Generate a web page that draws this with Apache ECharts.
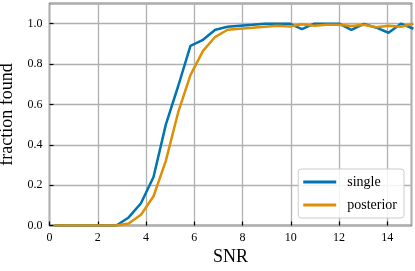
<!DOCTYPE html>
<html>
<head>
<meta charset="utf-8">
<script src="https://cdn.jsdelivr.net/npm/echarts@6/dist/echarts.min.js"></script>
<style>html,body{margin:0;padding:0;background:#fff;}#c{width:415px;height:271px;}</style>
</head>
<body>
<div id="c"></div>
<script>
const snr = [0.2,0.71,1.23,1.74,2.25,2.77,3.28,3.79,4.31,4.82,5.33,5.84,6.36,6.87,7.38,7.89,8.41,8.92,9.43,9.95,10.46,10.97,11.49,12.0,12.51,13.03,13.54,14.05,14.56,15.08];
const single = [0,0,0,0,0,0,0.04,0.11,0.24,0.5,0.69,0.89,0.92,0.97,0.985,0.99,0.995,1.0,1.0,1.0,0.973,1.0,1.0,1.0,0.969,0.999,0.98,0.955,1.0,0.975];
const posterior = [0,0,0,0,0,0,0.01,0.053,0.145,0.32,0.56,0.745,0.865,0.935,0.97,0.975,0.98,0.985,0.99,0.986,0.997,0.99,0.995,0.995,0.988,0.995,0.982,0.99,0.985,1.0];
const xTicks = [0,2,4,6,8,10,12,14];
const yTicks = [0.0,0.2,0.4,0.6,0.8,1.0];

const font = 'Liberation Serif';
const chart = echarts.init(document.getElementById('c'), null, {renderer:'canvas'});
const pair = (xs, ys) => xs.map((x,i)=>[x, ys[i]]);
chart.setOption({
  animation:false,
  backgroundColor:'#fff',
  grid:{left:49.5,right:3.5,top:3.5,bottom:45.5,containLabel:false,outerBoundsMode:'none',
    show:true,borderColor:'#000',borderWidth:1.3,backgroundColor:'transparent'},
  xAxis:{type:'value',min:0,max:15,interval:2,
    name:'SNR',nameLocation:'middle',nameGap:23,
    nameTextStyle:{fontFamily:font,fontSize:18,color:'#000'},
    axisLine:{show:false},
    axisTick:{show:true,inside:true,length:4,lineStyle:{color:'#000',width:1.2}},
    axisLabel:{fontFamily:font,fontSize:12,color:'#000',margin:6,showMaxLabel:false,
      formatter:v=> xTicks.includes(v)? String(v):''},
    splitLine:{show:true,lineStyle:{color:'#b0b0b0',width:1.3}}},
  yAxis:{type:'value',min:0,max:1.1,interval:0.2,
    name:'fraction found',nameLocation:'middle',nameGap:31,
    nameTextStyle:{fontFamily:font,fontSize:18,color:'#000'},
    axisLine:{show:false},
    axisTick:{show:true,inside:true,length:4,lineStyle:{color:'#000',width:1.2}},
    axisLabel:{fontFamily:font,fontSize:12,color:'#000',margin:7,showMaxLabel:false,
      formatter:v=>{const t=yTicks.find(y=>Math.abs(y-v)<1e-6);return t===undefined?'':t.toFixed(1);}},
    splitLine:{show:true,lineStyle:{color:'#b0b0b0',width:1.3}}},
  legend:{right:11,bottom:53,orient:'vertical',itemGap:9,itemWidth:33,itemHeight:3,
    icon:'rect',backgroundColor:'rgba(255,255,255,0.85)',borderColor:'#cccccc',borderWidth:1,borderRadius:3,
    padding:[6,7,6,5],
    textStyle:{fontFamily:font,fontSize:14,color:'#000',padding:[0,0,0,6]},
    data:['single','posterior']},
  series:[
    {name:'single',type:'line',data:pair(snr,single),showSymbol:false,symbol:'none',
      lineStyle:{color:'#0173b2',width:2.5},itemStyle:{color:'#0173b2'},z:3},
    {name:'posterior',type:'line',data:pair(snr,posterior),showSymbol:false,symbol:'none',
      lineStyle:{color:'#de8f05',width:2.5},itemStyle:{color:'#de8f05'},z:4}
  ]
});
</script>
</body>
</html>
